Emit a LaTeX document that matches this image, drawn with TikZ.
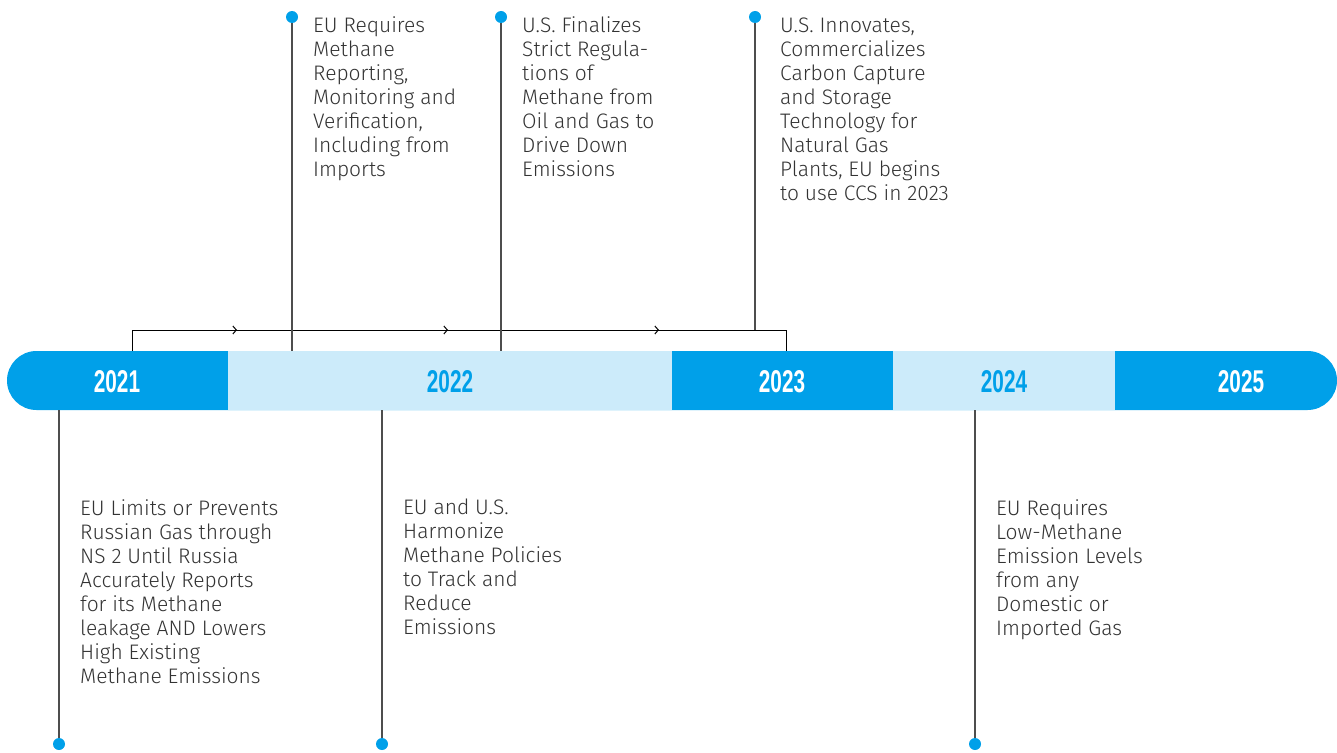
\documentclass[tikz,border=0pt]{standalone}
\usepackage{fontspec}
\setmainfont{Fira Sans Light}
\newfontfamily\yearfont{Liberation Sans}
\usetikzlibrary{arrows.meta,decorations.markings}
\definecolor{bdark}{HTML}{00A0E9}
\definecolor{blight}{HTML}{CCEBFA}
\definecolor{txt}{HTML}{333333}
\definecolor{stemc}{HTML}{4D4D4D}
\newcommand{\yr}[1]{\scalebox{0.66}[1]{#1}}
\begin{document}
\begin{tikzpicture}[x=1pt,y=-1pt,
  yearlbl/.style={font=\yearfont\bfseries\fontsize{31.5}{31.5}\selectfont, inner sep=0pt},
  yeardark/.style={yearlbl, text=white},
  yearlight/.style={yearlbl, text=bdark},
  dot/.style={circle, fill=bdark, minimum size=12pt, inner sep=0pt},
  stemline/.style={draw=stemc, line width=1.1pt},
  flow/.style={draw=black, line width=1pt, postaction={decorate},
    decoration={markings,
      mark=at position 126pt with {\arrow{Straight Barb[length=3.5pt,width=8pt,line width=1pt]}},
      mark=at position 337pt with {\arrow{Straight Barb[length=3.5pt,width=8pt,line width=1pt]}},
      mark=at position 548pt with {\arrow{Straight Barb[length=3.5pt,width=8pt,line width=1pt]}}}},
  desc/.style={anchor=north west, inner sep=0pt, align=left, text=txt,
    font=\fontsize{21}{24}\selectfont}
]
\useasboundingbox (0,0) rectangle (1337,752);
% bar
\fill[bdark, rounded corners=29.5pt] (7,351) rectangle (1337,410);
\fill[blight] (228,351) rectangle (672,410);
\fill[bdark] (672,351) rectangle (893,410);
\fill[blight] (893,351) rectangle (1115,410);
% year labels
\node[yeardark] (y21) at (117,381.5) {\yr{2021}};
\node[yearlight] (y22) at (450,381.5) {\yr{2022}};
\node[yeardark] (y23) at (782,381.5) {\yr{2023}};
\node[yearlight] (y24) at (1004,381.5) {\yr{2024}};
\node[yeardark] (y25) at (1241,381.5) {\yr{2025}};
% coordinates on the bar and flow line
\coordinate (fs) at (132,351);
\coordinate (fa) at (132,330);
\coordinate (fb) at (786,330);
\coordinate (fe) at (786,351);
\coordinate (bt1) at (292,351);
\coordinate (bt2) at (501,351);
\coordinate (bt3) at (755,330);
\coordinate (bb1) at (59,410);
\coordinate (bb2) at (382,410);
\coordinate (bb3) at (975,410);
% flow
\draw[flow] (fs) -- (fa) -- (fb) -- (fe);
% stems
\draw[stemline] (292,17) -- (bt1);
\draw[stemline] (501,17) -- (bt2);
\draw[stemline] (755,17) -- (bt3);
\draw[stemline] (59,744) -- (bb1);
\draw[stemline] (382,744) -- (bb2);
\draw[stemline] (975,744) -- (bb3);
% dots
\node[dot] (t1) at (292,17) {};
\node[dot] (t2) at (501,17) {};
\node[dot] (t3) at (755,17) {};
\node[dot] (u1) at (59,744) {};
\node[dot] (u2) at (382,744) {};
\node[dot] (u3) at (975,744) {};
% texts
\node[desc] (e1) at (313,16) {EU Requires\\Methane\\Reporting,\\Monitoring and\\Verification,\\Including from\\Imports};
\node[desc] (e2) at (522,16) {U.S. Finalizes\\Strict Regula-\\tions of\\Methane from\\Oil and Gas to\\Drive Down\\Emissions};
\node[desc] (e3) at (780,18) {U.S. Innovates,\\Commercializes\\Carbon Capture\\and Storage\\Technology for\\Natural Gas\\Plants, EU begins\\to use CCS in 2023};
\node[desc] (e4) at (80,499) {EU Limits or Prevents\\Russian Gas through\\NS 2 Until Russia\\Accurately Reports\\for its Methane\\leakage AND Lowers\\High Existing\\Methane Emissions};
\node[desc] (e5) at (403,499) {EU and U.S.\\Harmonize\\Methane Policies\\to Track and\\Reduce\\Emissions};
\node[desc] (e6) at (996,499) {EU Requires\\Low-Methane\\Emission Levels\\from any\\Domestic or\\Imported Gas};
\end{tikzpicture}
\end{document}
